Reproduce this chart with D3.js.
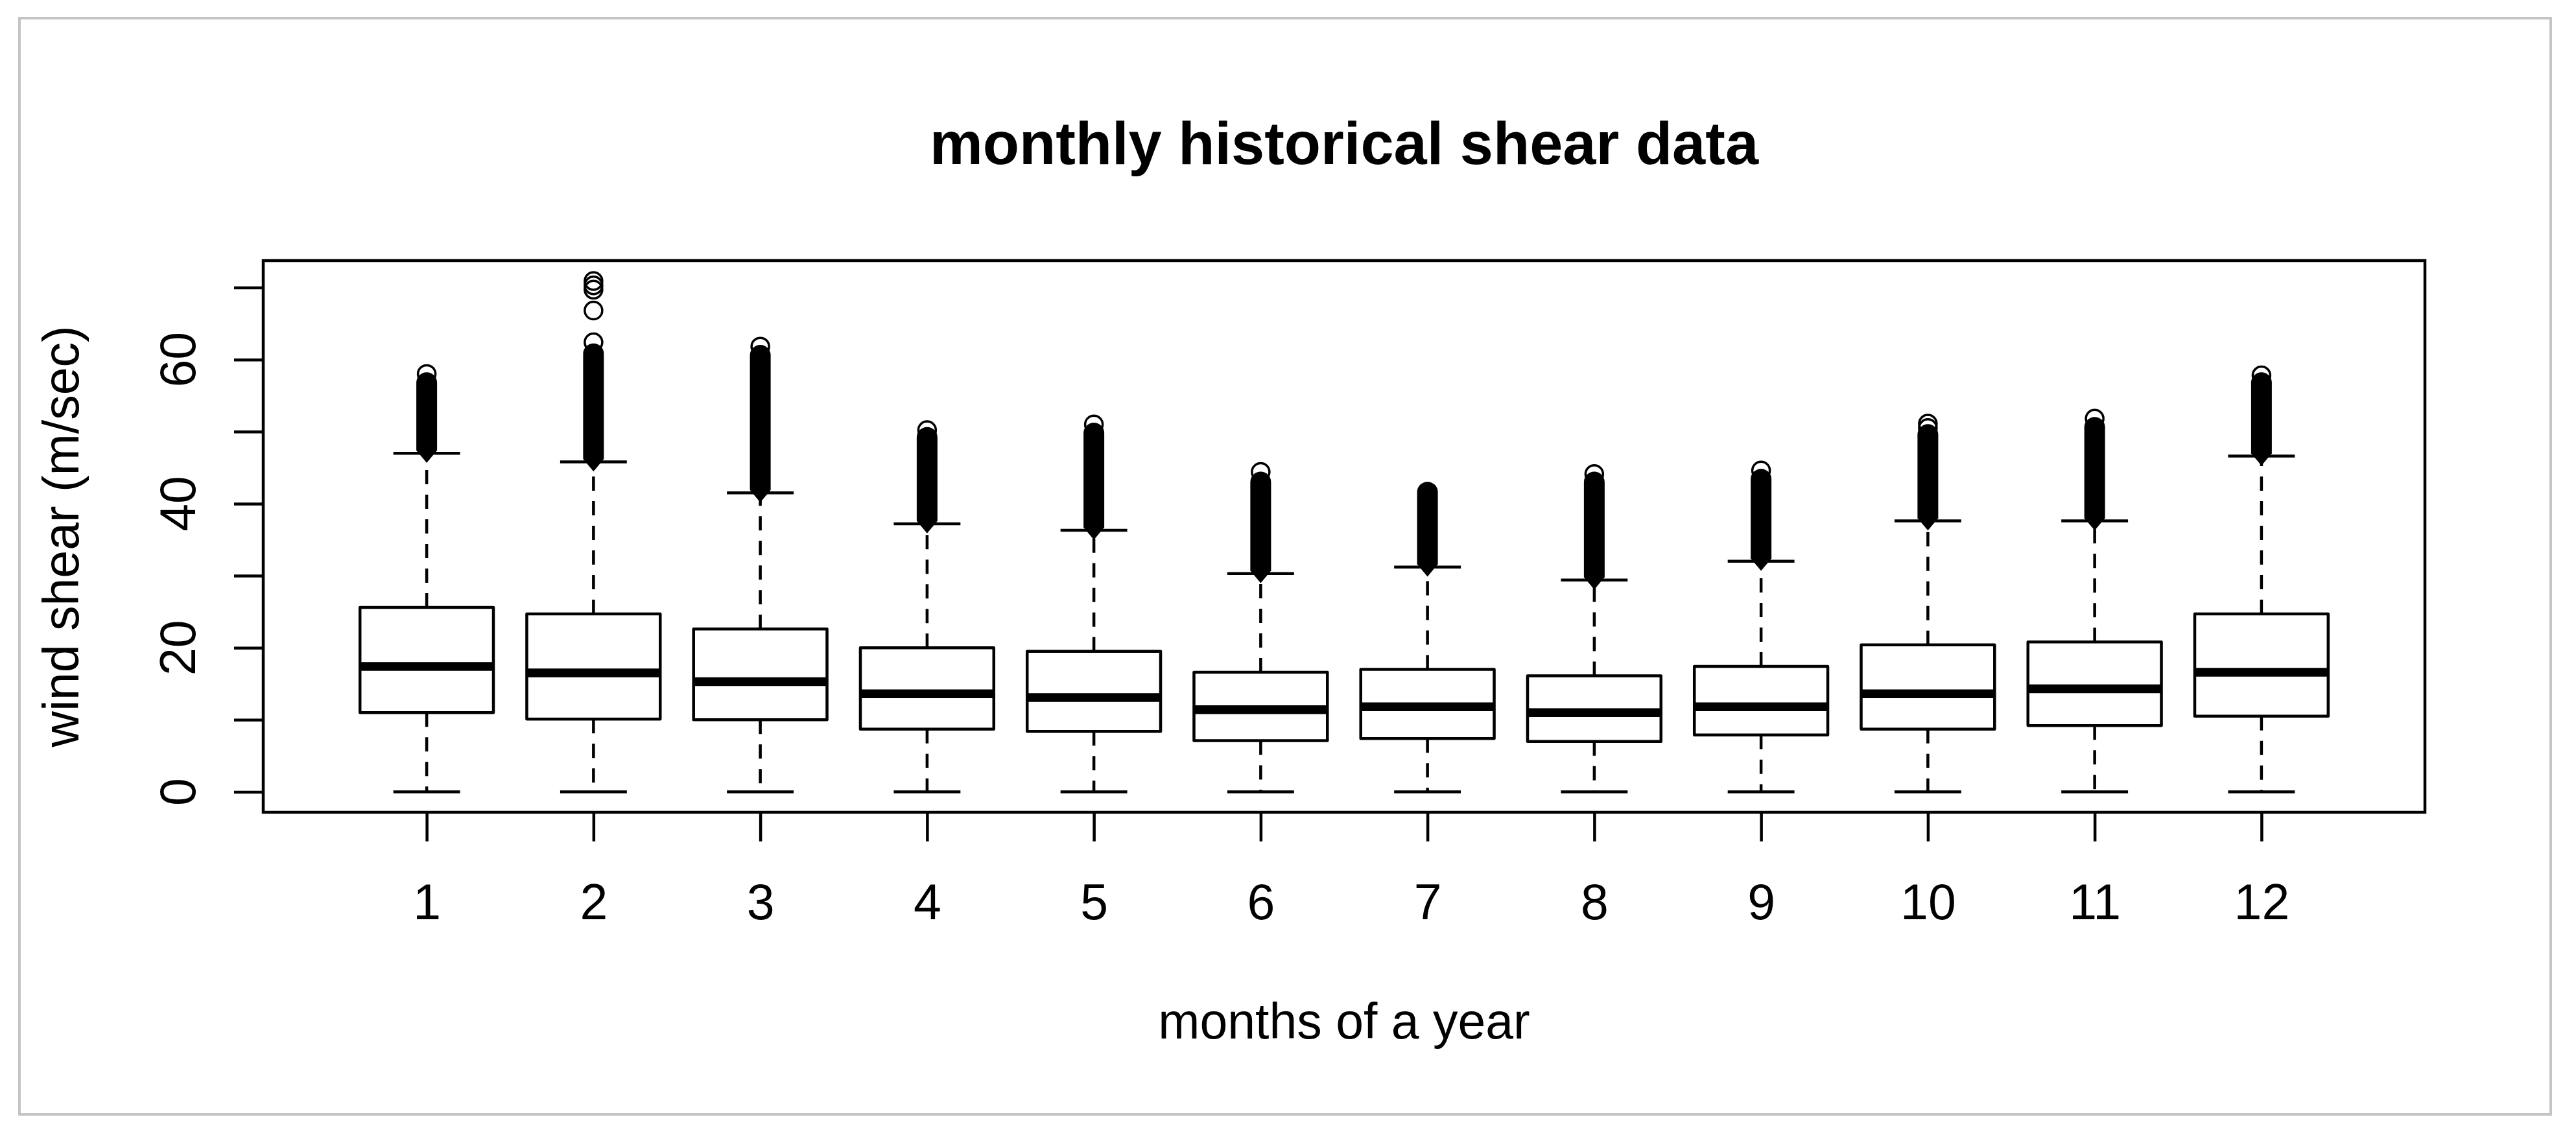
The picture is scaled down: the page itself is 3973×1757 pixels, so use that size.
<!DOCTYPE html>
<html>
<head>
<meta charset="utf-8">
<script src="https://cdn.jsdelivr.net/npm/d3@7"></script>
<style>
  html, body { margin: 0; padding: 0; background: #ffffff; }
  svg { display: block; }
  text { font-family: "Liberation Sans", Arial, sans-serif; fill: #000; }
</style>
</head>
<body>
<script>
// ---------------- data ----------------
const months = ["1","2","3","4","5","6","7","8","9","10","11","12"];
const q1Values     = [11.0, 10.1, 10.0, 8.7, 8.4, 7.1, 7.4, 7.0, 7.9, 8.7, 9.2, 10.5];
const medianValues = [17.4, 16.5, 15.3, 13.6, 13.1, 11.4, 11.8, 11.0, 11.8, 13.6, 14.3, 16.6];
const q3Values     = [25.6, 24.7, 22.6, 20.0, 19.5, 16.6, 17.0, 16.1, 17.4, 20.4, 20.8, 24.7];
const whiskerLow   = [0, 0, 0, 0, 0, 0, 0, 0, 0, 0, 0, 0];
const whiskerHigh  = [47.0, 45.8, 41.5, 37.2, 36.3, 30.3, 31.2, 29.4, 32.0, 37.6, 37.6, 46.6];
// dense runs of outliers (drawn as a solid column of overlapping circles)
const denseOutlierLow  = [47.4, 46.2, 41.9, 37.6, 36.7, 30.7, 31.6, 29.8, 32.4, 38.0, 38.0, 47.0];
const denseOutlierHigh = [56.8, 60.8, 60.6, 49.2, 49.8, 43.0, 41.6, 43.0, 43.4, 49.6, 50.6, 56.8];
// isolated outliers
const sparseOutliers = [
  [58.0],
  [62.4, 66.8, 69.7, 70.3, 70.9],
  [61.8],
  [50.2],
  [51.0],
  [44.4],
  [],
  [44.1],
  [44.6],
  [50.5, 51.1],
  [51.8],
  [57.8]
];
const yTicks = [0, 10, 20, 30, 40, 50, 60, 70];
const yTickLabels = ["0", "", "20", "", "40", "", "60", ""];
const titleText = "monthly historical shear data";
const xLabelText = "months of a year";
const yLabelText = "wind shear (m/sec)";

// ---------------- layout ----------------
const W = 3973, H = 1757;
const plot = { left: 406, right: 3740, top: 402, bottom: 1253 };
const lw = 4.5;
const fontSize = 77, titleSize = 92;

const svg = d3.select("body").append("svg")
  .attr("width", W).attr("height", H)
  .attr("viewBox", `0 0 ${W} ${H}`);

svg.append("rect").attr("x", 0).attr("y", 0).attr("width", W).attr("height", H).attr("fill", "#fff");
// outer light frame
svg.append("rect").attr("x", 30).attr("y", 28).attr("width", 3904).attr("height", 1691)
  .attr("fill", "none").attr("stroke", "#c4c4c4").attr("stroke-width", 4);

// scales (R style: 4% padding)
const n = months.length;
const xLo = 0.5, xHi = n + 0.5, xPad = 0.04 * (xHi - xLo);
const x = d3.scaleLinear().domain([xLo - xPad, xHi + xPad]).range([plot.left, plot.right]);

const allVals = [].concat(whiskerLow, whiskerHigh, denseOutlierHigh, ...sparseOutliers);
const yMin = d3.min(allVals), yMax = d3.max(allVals);
const yPad = 0.04 * (yMax - yMin);
const y = d3.scaleLinear().domain([yMin - yPad, yMax + yPad]).range([plot.bottom, plot.top]);

const boxHalf = 0.4, capHalf = 0.2;
const pxPerUnit = x(1) - x(0);

const g = svg.append("g");

months.forEach((m, i) => {
  const cx = x(i + 1);
  const bx0 = x(i + 1 - boxHalf), bx1 = x(i + 1 + boxHalf);
  const cx0 = x(i + 1 - capHalf), cx1 = x(i + 1 + capHalf);
  const gm = g.append("g");

  // whiskers (dashed)
  gm.append("line").attr("x1", cx).attr("x2", cx)
    .attr("y1", y(q3Values[i])).attr("y2", y(whiskerHigh[i]))
    .attr("stroke", "#000").attr("stroke-width", lw).attr("stroke-dasharray", "22 16");
  gm.append("line").attr("x1", cx).attr("x2", cx)
    .attr("y1", y(q1Values[i])).attr("y2", y(whiskerLow[i]))
    .attr("stroke", "#000").attr("stroke-width", lw).attr("stroke-dasharray", "22 16");

  // staples
  [whiskerHigh[i], whiskerLow[i]].forEach(v => {
    gm.append("line").attr("x1", cx0).attr("x2", cx1).attr("y1", y(v)).attr("y2", y(v))
      .attr("stroke", "#000").attr("stroke-width", lw);
  });

  // box
  gm.append("rect").attr("x", bx0).attr("y", y(q3Values[i]))
    .attr("width", bx1 - bx0).attr("height", y(q1Values[i]) - y(q3Values[i]))
    .attr("fill", "none").attr("stroke", "#000").attr("stroke-width", lw)
    .attr("stroke-linejoin", "round");
  // median
  gm.append("line").attr("x1", bx0).attr("x2", bx1)
    .attr("y1", y(medianValues[i])).attr("y2", y(medianValues[i]))
    .attr("stroke", "#000").attr("stroke-width", lw * 3);

  // dense outlier column
  const R = 16;
  const yH = y(denseOutlierHigh[i]), yL = y(denseOutlierLow[i]);
  gm.append("path")
    .attr("d", `M${cx - R},${yL} L${cx - R},${yH} A${R},${R} 0 0 1 ${cx + R},${yH} L${cx + R},${yL} L${cx},${yL + R * 1.2} Z`)
    .attr("fill", "#000");

  // isolated outliers
  sparseOutliers[i].forEach(v => {
    gm.append("circle").attr("cx", cx).attr("cy", y(v)).attr("r", 13.5)
      .attr("fill", "none").attr("stroke", "#000").attr("stroke-width", 3.5);
  });
});

// plot frame
svg.append("rect").attr("x", plot.left).attr("y", plot.top)
  .attr("width", plot.right - plot.left).attr("height", plot.bottom - plot.top)
  .attr("fill", "none").attr("stroke", "#000").attr("stroke-width", lw);

// y axis
const yAxis = d3.axisLeft(y).tickValues(yTicks).tickSize(45).tickSizeOuter(0).tickFormat("");
const gy = svg.append("g").attr("transform", `translate(${plot.left},0)`).call(yAxis);
gy.select(".domain").remove();
gy.selectAll(".tick line").attr("stroke", "#000").attr("stroke-width", lw);
yTicks.forEach((t, k) => {
  if (!yTickLabels[k]) return;
  svg.append("text")
    .attr("transform", `translate(301,${y(t)}) rotate(-90)`)
    .attr("text-anchor", "middle")
    .style("font-size", fontSize + "px")
    .text(yTickLabels[k]);
});

// x axis
const xAxis = d3.axisBottom(x).tickValues(d3.range(1, n + 1)).tickSize(45).tickSizeOuter(0)
  .tickFormat((d) => months[d - 1]);
const gx = svg.append("g").attr("transform", `translate(0,${plot.bottom})`).call(xAxis);
gx.select(".domain").remove();
gx.selectAll(".tick line").attr("stroke", "#000").attr("stroke-width", lw);
gx.selectAll(".tick text")
  .attr("y", 0).attr("dy", null)
  .attr("transform", `translate(0,${1418 - plot.bottom})`)
  .style("font-size", fontSize + "px")
  .style("font-family", '"Liberation Sans", Arial, sans-serif')
  .attr("fill", "#000");

// titles
const cxPlot = (plot.left + plot.right) / 2;
const cyPlot = (plot.top + plot.bottom) / 2;
svg.append("text").attr("x", cxPlot).attr("y", 253).attr("text-anchor", "middle")
  .style("font-size", titleSize + "px").style("font-weight", "bold").text(titleText);
svg.append("text").attr("x", cxPlot).attr("y", 1602).attr("text-anchor", "middle")
  .style("font-size", fontSize + "px").text(xLabelText);
svg.append("text").attr("transform", `translate(121,${cyPlot}) rotate(-90)`)
  .attr("text-anchor", "middle")
  .style("font-size", fontSize + "px").text(yLabelText);
</script>
</body>
</html>
